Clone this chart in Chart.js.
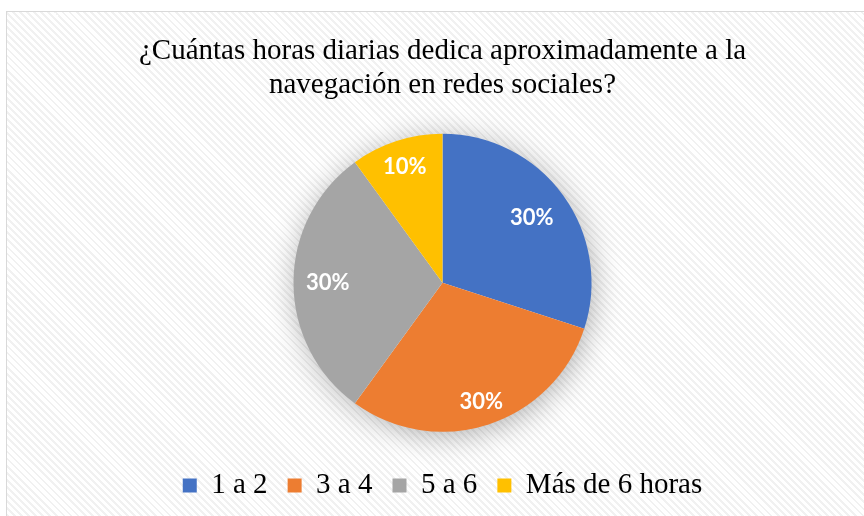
<!DOCTYPE html>
<html>
<head>
<meta charset="utf-8">
<script src="https://cdn.jsdelivr.net/npm/chart.js@4.4.1/dist/chart.umd.min.js"></script>
<style>
  html, body { margin: 0; padding: 0; background: #fff; overflow: hidden; }
  #marco {
    position: absolute; left: 6px; top: 11px; width: 880px; height: 530px;
    border: 1.5px solid #d9d9d9;
    background: repeating-linear-gradient(45deg, #ffffff 0px, #ffffff 3px, #f1f1f1 3px, #f1f1f1 5px);
  }
  #lienzo { position: absolute; left: 0; top: 0; }
</style>
</head>
<body>
<div id="marco"></div>
<canvas id="lienzo" width="864" height="516"></canvas>
<script>
const categorias = ["1 a 2", "3 a 4", "5 a 6", "Más de 6 horas"];
const valores = [30, 30, 30, 10];
const colores = ["#4472C4", "#ED7D31", "#A5A5A5", "#FFC000"];
const titulo = ["¿Cuántas horas diarias dedica aproximadamente a la", "navegación en redes sociales?"];

// distancia de cada etiqueta al centro, como fracción del radio (estilo)
const distEtiqueta = [0.74, 0.84, 0.77, 0.82];

// sombra suave bajo el pastel
const sombraPastel = {
  id: "sombraPastel",
  beforeDatasetsDraw(chart) {
    const arco = chart.getDatasetMeta(0).data[0];
    if (!arco) return;
    const ctx = chart.ctx;
    ctx.save();
    ctx.shadowColor = "rgba(0,0,0,0.32)";
    ctx.shadowBlur = 30;
    ctx.shadowOffsetX = 2;
    ctx.shadowOffsetY = 4;
    ctx.fillStyle = "#ffffff";
    ctx.beginPath();
    ctx.arc(arco.x, arco.y, arco.outerRadius - 1, 0, Math.PI * 2);
    ctx.fill();
    ctx.restore();
  }
};

// porcentajes dentro de cada porción
const etiquetas = {
  id: "etiquetas",
  afterDatasetsDraw(chart) {
    const ctx = chart.ctx;
    const total = valores.reduce((a, b) => a + b, 0);
    ctx.save();
    ctx.fillStyle = "#ffffff";
    ctx.font = "bold 22px Lato";
    ctx.textAlign = "center";
    ctx.textBaseline = "middle";
    chart.getDatasetMeta(0).data.forEach((arco, i) => {
      const medio = (arco.startAngle + arco.endAngle) / 2;
      const r = arco.outerRadius * distEtiqueta[i];
      const x = arco.x + Math.cos(medio) * r;
      const y = arco.y + Math.sin(medio) * r;
      ctx.fillText(Math.round(valores[i] / total * 100) + "%", x, y);
    });
    ctx.restore();
  }
};

new Chart(document.getElementById("lienzo"), {
  type: "pie",
  data: {
    labels: categorias,
    datasets: [{
      data: valores,
      backgroundColor: colores,
      borderWidth: 0,
      radius: 149
    }]
  },
  options: {
    responsive: false,
    animation: false,
    layout: { padding: { top: 34, bottom: 6, left: 21, right: 0 } },
    plugins: {
      title: {
        display: true,
        text: titulo,
        color: "#000000",
        font: { family: "Liberation Serif", size: 29, weight: "normal", lineHeight: 1.172 },
        padding: { top: 0, bottom: 12.5 }
      },
      legend: {
        position: "bottom",
        labels: {
          color: "#000000",
          boxWidth: 14,
          boxHeight: 14,
          padding: 20,
          font: { family: "Liberation Serif", size: 29 }
        }
      },
      tooltip: { enabled: false }
    }
  },
  plugins: [sombraPastel, etiquetas]
});
</script>
</body>
</html>
